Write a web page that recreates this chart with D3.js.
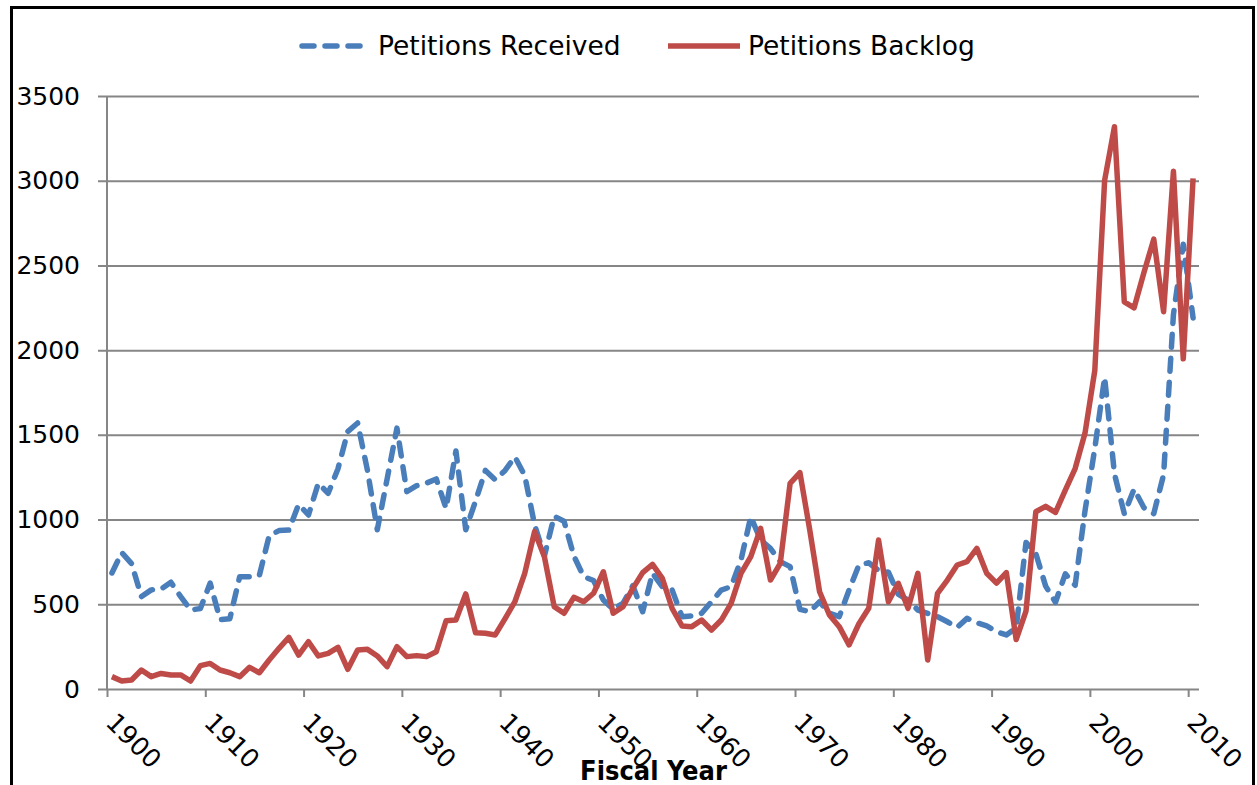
<!DOCTYPE html>
<html><head><meta charset="utf-8">
<script src="https://cdn.jsdelivr.net/npm/d3@7"></script>
<style>html,body{margin:0;padding:0;background:#fff;} svg{display:block;}</style>
</head><body>
<svg id="chart" width="1257" height="785"></svg>
<script>
// ---- data ----
const years = d3.range(1900, 2011);
const received = [
 685,805,740,545,585,590,630,545,466,475,
 625,410,415,663,663,670,905,935,938,1090,
 1027,1215,1155,1300,1520,1570,1290,940,1240,1540,
 1165,1200,1215,1240,1066,1405,940,1110,1290,1235,
 1290,1370,1260,970,785,1020,990,785,663,640,
 525,470,506,610,456,683,604,584,427,431,
 447,515,584,604,761,1017,879,830,752,722,
 470,456,515,447,427,584,732,745,700,690,
 560,525,466,447,427,397,364,417,391,372,
 338,319,360,865,800,607,512,680,612,1050,
 1420,1840,1270,1035,1180,1070,1035,1265,2210,2625,
 2190];
const backlog = [
 73,47,53,112,73,92,83,83,47,138,
 151,112,96,73,128,96,171,240,305,200,
 279,195,210,246,116,230,234,195,132,250,
 191,197,191,220,403,407,561,332,329,319,
 415,515,683,929,781,486,447,541,515,565,
 692,447,486,594,687,736,653,475,372,368,
 407,348,407,506,683,781,948,643,742,1214,
 1277,938,574,437,368,260,385,476,879,515,
 624,476,683,171,565,643,732,752,830,683,
 625,687,292,460,1046,1078,1042,1174,1301,1509,
 1880,3002,3319,2285,2250,2458,2655,2227,3056,1949,
 3014];
const xTickYears = [1900,1910,1920,1930,1940,1950,1960,1970,1980,1990,2000,2010];
const yTicks = [0,500,1000,1500,2000,2500,3000,3500];
const seriesNames = ["Petitions Received","Petitions Backlog"];
const seriesColors = ["#4A7EBB","#BE4B48"];
const xTitle = "Fiscal Year";

// ---- layout ----
const svg = d3.select("#chart");
const pLeft = 107, pRight = 1198, pTop = 96, pBottom = 689;
const x = d3.scaleLinear().domain([1900, 2011]).range([pLeft, pRight]);
const y = d3.scaleLinear().domain([0, 3500]).range([pBottom, pTop]);
const font = "'DejaVu Sans', Verdana, sans-serif";

// frame
svg.append("rect").attr("x", 11.5).attr("y", 7.5).attr("width", 1242).attr("height", 830)
  .attr("fill", "none").attr("stroke", "#000").attr("stroke-width", 3);

// gridlines (+ y tick marks)
svg.append("g").attr("transform", `translate(${pRight + 1},0)`)
  .call(d3.axisLeft(y).tickValues(yTicks).tickSize(pRight + 1 - 98).tickFormat(""))
  .call(g => { g.select(".domain").remove();
    g.selectAll("line").attr("stroke", "#868686").attr("stroke-width", 2); });

// y axis line
svg.append("line").attr("x1", pLeft).attr("x2", pLeft).attr("y1", y(3500)).attr("y2", y(0))
  .attr("stroke", "#868686").attr("stroke-width", 2);

// y labels
svg.append("g").attr("transform", `translate(${pLeft},0)`)
  .call(d3.axisLeft(y).tickValues(yTicks).tickSize(0).tickPadding(27).tickFormat(d => String(d)))
  .call(g => { g.select(".domain").remove();
    g.selectAll("text").attr("font-family", font).attr("font-size", 25).attr("fill", "#000"); });

// x axis
svg.append("g").attr("transform", `translate(0,${pBottom})`)
  .call(d3.axisBottom(x).tickValues(xTickYears).tickSize(8).tickFormat(d => String(d)))
  .call(g => { g.select(".domain").remove();
    g.selectAll("line").attr("stroke", "#868686").attr("stroke-width", 2);
    g.selectAll("text").attr("font-family", font).attr("font-size", 25.5).attr("fill", "#000")
      .attr("x", 0).attr("y", 0).attr("dy", 0).attr("text-anchor", "start")
      .attr("transform", "translate(-3,35) rotate(45)"); });

// x title
svg.append("text").attr("x", (pLeft + pRight) / 2 + 1).attr("y", 780)
  .attr("text-anchor", "middle").attr("font-family", "'DejaVu Sans Condensed', 'DejaVu Sans', sans-serif")
  .attr("font-weight", "bold").attr("font-size", 27).attr("fill", "#000").text(xTitle);

// lines
const line = d3.line().x((d, i) => x(years[i] + 0.5)).y(d => y(d));
svg.append("path").datum(received).attr("d", line).attr("fill", "none")
  .attr("stroke", seriesColors[0]).attr("stroke-width", 5.5).attr("stroke-dasharray", "13 11")
  .attr("stroke-linecap", "round").attr("stroke-linejoin", "round");
svg.append("path").datum(backlog).attr("d", line).attr("fill", "none")
  .attr("stroke", seriesColors[1]).attr("stroke-width", 5.5)
  .attr("stroke-linejoin", "round");

// legend
const legend = svg.append("g");
legend.append("line").attr("x1", 302).attr("x2", 364).attr("y1", 46).attr("y2", 46)
  .attr("stroke", seriesColors[0]).attr("stroke-width", 5.5).attr("stroke-dasharray", "12 11")
  .attr("stroke-linecap", "round");
legend.append("text").attr("x", 378).attr("y", 55).attr("font-family", font).attr("font-size", 26.5)
  .attr("fill", "#000").text(seriesNames[0]);
legend.append("line").attr("x1", 668).attr("x2", 740).attr("y1", 46).attr("y2", 46)
  .attr("stroke", seriesColors[1]).attr("stroke-width", 5.5);
legend.append("text").attr("x", 748).attr("y", 55).attr("font-family", font).attr("font-size", 26.5)
  .attr("fill", "#000").text(seriesNames[1]);
</script>
</body></html>
